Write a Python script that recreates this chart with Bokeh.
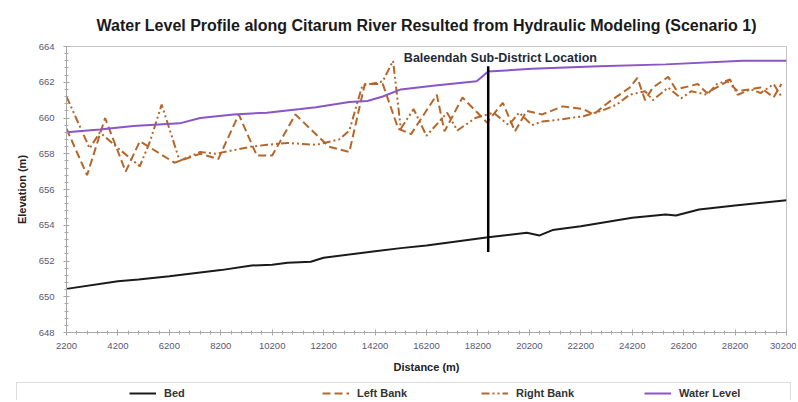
from bokeh.plotting import figure
from bokeh.models import Legend, LegendItem, FixedTicker, Range1d
from bokeh.core.properties import value
from bokeh.embed import file_html
from bokeh.resources import INLINE

# ---------------- data ----------------
x_ticks = list(range(2200, 30201, 2000))
x_minor = list(range(2200, 30201, 400))
y_ticks = list(range(648, 665, 2))
y_minor = [648 + 0.4 * i for i in range(41)]

bed_dist = [2200, 4200, 5000, 6200, 8200, 9400, 10200, 10800, 11700, 12200, 14200, 15200,
            16200, 18600, 20100, 20600, 21100, 22200, 24200, 25500, 25900, 26800, 28200, 30200]
bed_elev = [650.44, 650.87, 650.96, 651.15, 651.49, 651.75, 651.79, 651.9, 651.96, 652.18, 652.55, 652.72,
            652.87, 653.33, 653.58, 653.43, 653.73, 653.95, 654.42, 654.6, 654.55, 654.88, 655.1, 655.4]

left_dist = [2200, 3000, 3700, 4500, 5050, 6400, 7400, 8100, 8900, 9600, 10200, 11100, 12400, 13200,
             13800, 14500, 15100, 15600, 16600, 16900, 17600, 18550, 19170, 19640, 20100, 20700,
             21500, 22300, 22700, 23300, 24100, 24400, 24700, 25000, 25600, 25900, 26750, 27100,
             27900, 28300, 29200, 29700, 30000]
left_elev = [659.4, 656.8, 660.0, 657.0, 658.7, 657.5, 658.0, 657.7, 660.2, 657.9, 657.9, 660.2, 658.4, 658.1,
             661.9, 661.9, 659.4, 659.1, 661.3, 659.25, 661.15, 659.75, 660.85, 659.25, 660.4, 660.2,
             660.65, 660.5, 660.2, 660.9, 661.7, 662.25, 661.0, 661.7, 662.3, 661.6, 661.9, 661.4,
             662.05, 661.5, 661.7, 661.15, 661.9]

right_dist = [2200, 3100, 3500, 4300, 5050, 5450, 5900, 6600, 7400, 8000, 9400, 10000, 10800, 11900,
              12800, 13200, 13700, 14500, 14900, 15200, 15700, 16200, 17000, 17400, 18100, 18800,
              19400, 19800, 20300, 20700, 21300, 22300, 23000, 23600, 24100, 24700, 25000, 25600,
              26100, 26500, 27100, 27500, 28000, 28300, 28800, 29200, 29700, 30000]
right_elev = [661.2, 658.3, 659.2, 658.2, 657.3, 658.7, 660.75, 657.6, 658.1, 658.0, 658.4, 658.5, 658.6, 658.5,
              658.8, 659.3, 661.8, 662.05, 663.2, 659.4, 660.5, 659.0, 660.3, 659.3, 660.0, 660.3,
              659.6, 660.3, 659.6, 659.8, 659.9, 660.1, 660.4, 660.75, 661.3, 661.5, 661.0, 661.7,
              661.1, 661.5, 661.3, 661.9, 662.15, 661.3, 661.6, 661.4, 661.9, 661.2]

wl_dist = [2200, 3500, 4800, 6600, 7400, 8700, 10000, 11300, 11900, 13200, 13900, 14500, 15200,
           16450, 18150, 18600, 20300, 22900, 25500, 28500, 30200]
wl_elev = [659.2, 659.35, 659.55, 659.7, 660.0, 660.2, 660.3, 660.5, 660.6, 660.9, 660.95, 661.2, 661.6,
           661.8, 662.05, 662.6, 662.75, 662.9, 663.0, 663.2, 663.2]

marker_dist = [18600, 18600]
marker_elev = [652.5, 662.9]
marker_label = ["Baleendah Sub-District Location"]
marker_label_x = [15320]
marker_label_y = [663.38]

series_names = ["Bed", "Left Bank", "Right Bank", "Water Level"]

FONT = "Liberation Sans"
BROWN = "#b5662a"
PURPLE = "#8a55c6"
BED = "#1a1a1a"
TICK_COL = "#5a5672"
AXIS_COL = "#a8a8a8"
LEFT_DASH = "8 4"
RIGHT_DASH = "8 3 2 3 2 3"

W = 796

p = figure(width=W, height=382, output_backend="svg", toolbar_location=None,
           x_range=Range1d(2200, 30200), y_range=Range1d(648, 664),
           min_border_left=66, min_border_right=10, min_border_top=46, min_border_bottom=50,
           title="Water Level Profile along Citarum River Resulted from Hydraulic Modeling (Scenario 1)")

p.title.text_font = FONT
p.title.text_font_size = "16px"
p.title.text_font_style = "bold"
p.title.text_color = "#1a1a1a"
p.title.align = "center"
p.title.standoff = 25

p.xgrid.visible = False
p.ygrid.visible = False
p.outline_line_color = "#c4c4c4"
p.background_fill_color = "white"
p.border_fill_color = "white"

p.xaxis.ticker = FixedTicker(ticks=x_ticks, minor_ticks=x_minor)
p.yaxis.ticker = FixedTicker(ticks=y_ticks, minor_ticks=y_minor)
for ax in (p.xaxis, p.yaxis):
    ax.axis_line_color = AXIS_COL
    ax.major_tick_line_color = AXIS_COL
    ax.minor_tick_line_color = AXIS_COL
    ax.major_tick_in = 3
    ax.major_tick_out = 3
    ax.minor_tick_in = 2
    ax.minor_tick_out = 2
    ax.major_label_text_font = FONT
    ax.major_label_text_font_size = "9.5px"
    ax.major_label_text_color = TICK_COL
    ax.axis_label_text_font = FONT
    ax.axis_label_text_font_size = "11px"
    ax.axis_label_text_font_style = "bold"
    ax.axis_label_text_color = "#222222"

p.xaxis.axis_label = "Distance (m)"
p.xaxis.major_label_standoff = 7
p.xaxis.axis_label_standoff = 9
p.yaxis.axis_label = "Elevation (m)"
p.yaxis.major_label_standoff = 9
p.yaxis.axis_label_standoff = 8

p.line(bed_dist, bed_elev, line_color=BED, line_width=2)
p.line(left_dist, left_elev, line_color=BROWN, line_width=2, line_dash=LEFT_DASH)
p.line(right_dist, right_elev, line_color=BROWN, line_width=2, line_dash=RIGHT_DASH)
p.line(wl_dist, wl_elev, line_color=PURPLE, line_width=2)

p.line(marker_dist, marker_elev, line_color="black", line_width=2.5)
p.text(x=marker_label_x, y=marker_label_y, text=marker_label, text_font=value(FONT),
       text_font_size="12.5px", text_font_style="bold", text_color="#1f2a38",
       text_baseline="middle", text_align="left")

# ---------------- legend strip (separate root, no axes) ----------------
LH = 18
q = figure(width=W, height=LH, output_backend="svg", toolbar_location=None,
           x_range=Range1d(0, W), y_range=Range1d(0, LH),
           x_axis_type=None, y_axis_type=None,
           min_border_left=0, min_border_right=0, min_border_top=0, min_border_bottom=0)
q.xgrid.visible = False
q.ygrid.visible = False
q.outline_line_color = None
q.background_fill_color = "white"
q.border_fill_color = "white"

# proxies (their data lie outside this strip's ranges, so only the legend glyphs show)
g_bed = q.line(bed_dist, bed_elev, line_color=BED, line_width=2)
g_left = q.line(left_dist, left_elev, line_color=BROWN, line_width=2, line_dash=LEFT_DASH)
g_right = q.line(right_dist, right_elev, line_color=BROWN, line_width=2, line_dash=RIGHT_DASH)
g_wl = q.line(wl_dist, wl_elev, line_color=PURPLE, line_width=2)
g_none = q.line(bed_dist, bed_elev, line_alpha=0)

box = Legend(items=[LegendItem(label=" ", renderers=[g_none])],
             location=(16, -12), orientation="horizontal",
             glyph_width=1, glyph_height=20, label_height=20, label_width=764,
             label_standoff=0, padding=4, margin=0, spacing=0,
             border_line_color="#bdbdbd", border_line_width=1,
             background_fill_color="white", background_fill_alpha=1)
q.add_layout(box, "center")

item_x = [129, 322, 481, 644]
for name, rend, x0 in zip(series_names, [g_bed, g_left, g_right, g_wl], item_x):
    lg = Legend(items=[LegendItem(label=name, renderers=[rend])],
                location=(x0, 0), orientation="horizontal",
                glyph_width=27, glyph_height=14, label_height=14, label_width=10,
                label_standoff=8, padding=0, margin=0, spacing=0,
                label_text_font=FONT, label_text_font_size="11px", label_text_font_style="bold",
                label_text_color="#333333",
                border_line_alpha=0, background_fill_alpha=0)
    q.add_layout(lg, "center")

open("out.html", "w").write(file_html([p, q], INLINE))
